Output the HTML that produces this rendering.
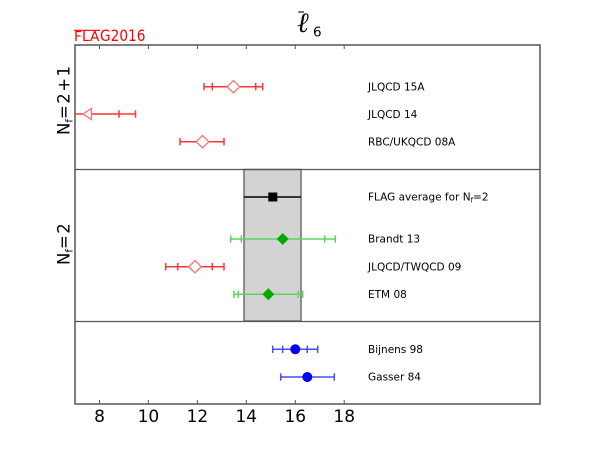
<!DOCTYPE html>
<html><head><meta charset="utf-8"><style>
html,body{margin:0;padding:0;background:#fff;}
svg{display:block;}
text{font-family:"DejaVu Sans","Liberation Sans",sans-serif;}
</style></head><body>
<svg width="600" height="450" viewBox="0 0 600 450" xmlns="http://www.w3.org/2000/svg">
<rect width="600" height="450" fill="#fff"/>
<!-- band -->
<rect x="244" y="169.5" width="57" height="151.5" fill="#d3d3d3" stroke="#6e6e6e" stroke-width="1.5"/>
<!-- dividers -->
<line x1="75" y1="169.5" x2="540" y2="169.5" stroke="#555" stroke-width="1.3"/>
<line x1="75" y1="321.5" x2="540" y2="321.5" stroke="#555" stroke-width="1.3"/>
<!-- frame -->
<rect x="75" y="45" width="465" height="359" fill="none" stroke="#555" stroke-width="1.5"/>
<!-- ticks -->
<g stroke="#555" stroke-width="1">
<line x1="99.5" y1="45" x2="99.5" y2="49"/><line x1="148.4" y1="45" x2="148.4" y2="49"/><line x1="197.4" y1="45" x2="197.4" y2="49"/><line x1="246.3" y1="45" x2="246.3" y2="49"/><line x1="295.3" y1="45" x2="295.3" y2="49"/><line x1="344.2" y1="45" x2="344.2" y2="49"/>
<line x1="99.5" y1="404" x2="99.5" y2="400"/><line x1="148.4" y1="404" x2="148.4" y2="400"/><line x1="197.4" y1="404" x2="197.4" y2="400"/><line x1="246.3" y1="404" x2="246.3" y2="400"/><line x1="295.3" y1="404" x2="295.3" y2="400"/><line x1="344.2" y1="404" x2="344.2" y2="400"/>
</g>
<g font-size="17" text-anchor="middle" fill="#000">
<text x="99.5" y="422">8</text><text x="148.4" y="422">10</text><text x="197.4" y="422">12</text><text x="246.3" y="422">14</text><text x="295.3" y="422">16</text><text x="344.2" y="422">18</text>
</g>
<!-- title -->
<line x1="298.3" y1="12" x2="304" y2="12" stroke="#000" stroke-width="1.1"/>
<text x="297" y="32" font-size="28" font-style="italic" fill="#000" style="font-family:'DejaVu Serif','Liberation Serif',serif">ℓ</text>
<text x="313" y="36.5" font-size="13.5" fill="#000">6</text>
<!-- FLAG2016 -->
<line x1="74" y1="30.3" x2="100" y2="30.3" stroke="#ff0000" stroke-width="1.2"/>
<text x="74" y="41" font-size="13" fill="#ff0000" textLength="25.5" lengthAdjust="spacingAndGlyphs">FLA</text>
<text x="100" y="41" font-size="16" fill="#ff0000" textLength="45.5" lengthAdjust="spacingAndGlyphs">G2016</text>
<!-- y labels -->
<text transform="translate(69.5,135) rotate(-90)" font-size="16.5" fill="#000">N<tspan font-size="10" dy="3">f</tspan><tspan dy="-3" letter-spacing="1.5">=2+1</tspan></text>
<text transform="translate(69.5,265) rotate(-90)" font-size="16.5" fill="#000">N<tspan font-size="10" dy="3">f</tspan><tspan dy="-3" letter-spacing="1.5">=2</tspan></text>
<!-- red series -->
<g stroke="#ff3535" stroke-width="1.5" fill="none">
<line x1="204" y1="86.7" x2="262.7" y2="86.7"/><line x1="204" y1="83" x2="204" y2="90.4"/><line x1="262.7" y1="83" x2="262.7" y2="90.4"/><line x1="212.3" y1="83" x2="212.3" y2="90.4"/><line x1="255.7" y1="83" x2="255.7" y2="90.4"/>
<line x1="75" y1="114" x2="135.5" y2="114"/><line x1="135.5" y1="110.3" x2="135.5" y2="117.7"/><line x1="119" y1="110.3" x2="119" y2="117.7"/>
<line x1="180" y1="141.7" x2="224" y2="141.7"/><line x1="180" y1="138" x2="180" y2="145.4"/><line x1="224" y1="138" x2="224" y2="145.4"/>
<line x1="165.7" y1="266.7" x2="224" y2="266.7"/><line x1="165.7" y1="263" x2="165.7" y2="270.4"/><line x1="224" y1="263" x2="224" y2="270.4"/><line x1="177.7" y1="263" x2="177.7" y2="270.4"/><line x1="212.3" y1="263" x2="212.3" y2="270.4"/>
</g>
<g stroke="#ff7070" stroke-width="1.3" fill="#fff">
<polygon points="233.5,80.5 239.8,86.7 233.5,92.9 227.2,86.7"/>
<polygon points="83,114 91.5,108.5 91.5,119.5"/>
<polygon points="202.5,135.5 208.8,141.7 202.5,147.9 196.2,141.7"/>
<polygon points="195,260.5 201.3,266.7 195,272.9 188.7,266.7"/>
</g>
<!-- FLAG average -->
<line x1="244" y1="197" x2="301" y2="197" stroke="#000" stroke-width="1.5"/>
<rect x="268.3" y="192.5" width="9" height="9" fill="#000"/>
<!-- green series -->
<g stroke="#5ed35e" stroke-width="1.5" fill="none">
<line x1="230.7" y1="239" x2="335.3" y2="239"/><line x1="230.7" y1="235.3" x2="230.7" y2="242.7"/><line x1="335.3" y1="235.3" x2="335.3" y2="242.7"/><line x1="241.3" y1="235.3" x2="241.3" y2="242.7"/><line x1="324.7" y1="235.3" x2="324.7" y2="242.7"/>
<line x1="234" y1="294.3" x2="302.7" y2="294.3"/><line x1="234" y1="290.6" x2="234" y2="298"/><line x1="302.7" y1="290.6" x2="302.7" y2="298"/><line x1="238.3" y1="290.6" x2="238.3" y2="298"/><line x1="298.3" y1="290.6" x2="298.3" y2="298"/>
</g>
<g fill="#00aa00">
<polygon points="282.7,233 288.7,239 282.7,245 276.7,239"/>
<polygon points="268.3,288.3 274.3,294.3 268.3,300.3 262.3,294.3"/>
</g>
<!-- blue series -->
<g stroke="#4a4aff" stroke-width="1.5" fill="none">
<line x1="272.7" y1="349.3" x2="317.7" y2="349.3"/><line x1="272.7" y1="345.6" x2="272.7" y2="353"/><line x1="317.7" y1="345.6" x2="317.7" y2="353"/><line x1="282.7" y1="345.6" x2="282.7" y2="353"/><line x1="307.3" y1="345.6" x2="307.3" y2="353"/>
<line x1="280.7" y1="377" x2="334.3" y2="377"/><line x1="280.7" y1="373.3" x2="280.7" y2="380.7"/><line x1="334.3" y1="373.3" x2="334.3" y2="380.7"/>
</g>
<circle cx="295.3" cy="349.3" r="5" fill="#0000ff"/>
<circle cx="307.3" cy="377" r="5" fill="#0000ff"/>
<!-- labels -->
<g font-size="10.5" fill="#000">
<text x="368" y="90.5">JLQCD 15A</text>
<text x="368" y="118">JLQCD 14</text>
<text x="368" y="145.5">RBC/UKQCD 08A</text>
<text x="368" y="200.5">FLAG average for N<tspan font-size="7" dy="2">f</tspan><tspan dy="-2">=2</tspan></text>
<text x="368" y="242.5">Brandt 13</text>
<text x="368" y="270.5">JLQCD/TWQCD 09</text>
<text x="368" y="298">ETM 08</text>
<text x="368" y="353">Bijnens 98</text>
<text x="368" y="380.5">Gasser 84</text>
</g>
</svg>
</body></html>
